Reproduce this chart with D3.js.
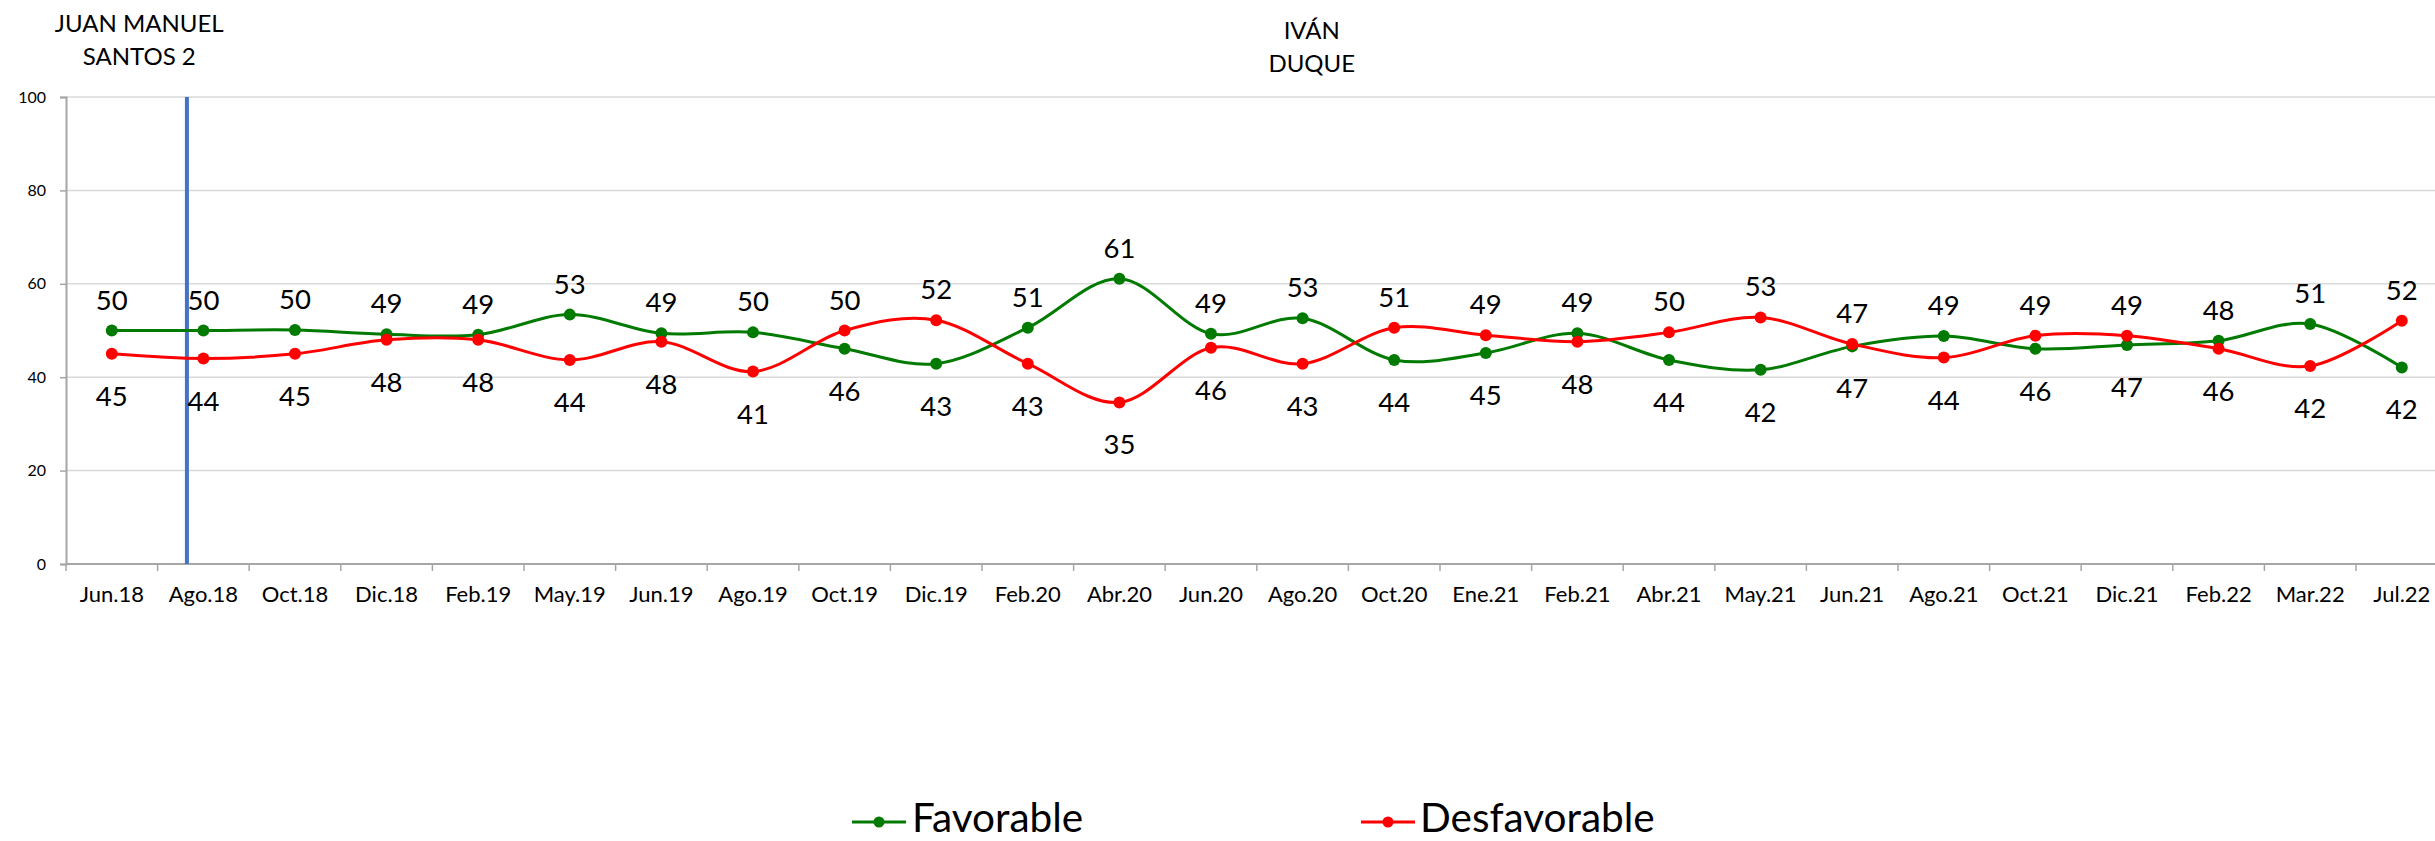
<!DOCTYPE html>
<html>
<head>
<meta charset="utf-8">
<script src="https://cdn.jsdelivr.net/npm/d3@7"></script>
<style>
  html, body { margin: 0; padding: 0; background: #fff; }
  svg { display: block; font-family: Lato, "Open Sans", sans-serif; }
</style>
</head>
<body>
<svg id="chart" width="2435" height="841"></svg>
<script>
const categories = ["Jun.18","Ago.18","Oct.18","Dic.18","Feb.19","May.19","Jun.19","Ago.19","Oct.19","Dic.19",
  "Feb.20","Abr.20","Jun.20","Ago.20","Oct.20","Ene.21","Feb.21","Abr.21","May.21","Jun.21",
  "Ago.21","Oct.21","Dic.21","Feb.22","Mar.22","Jul.22"];
const favorable = [50.0,50.0,50.1,49.2,49.1,53.4,49.4,49.6,46.1,42.9,
  50.6,61.1,49.3,52.6,43.7,45.2,49.4,43.7,41.6,46.6,
  48.8,46.1,46.9,47.8,51.4,42.1];
const desfavorable = [45.0,44.0,45.0,48.0,48.0,43.7,47.6,41.2,50.0,52.2,
  42.9,34.6,46.3,42.9,50.6,49.0,47.6,49.6,52.8,47.1,
  44.2,48.9,48.9,46.1,42.4,52.1];
const yTicks = [0,20,40,60,80,100];
const seriesNames = ["Favorable","Desfavorable"];
const seriesColors = ["#007a00","#ff0000"];
const periods = [
  {lines:["JUAN MANUEL","SANTOS 2"], at: 0.8},
  {lines:["IVÁN","DUQUE"], at: 13.6}
];
const presidentChange = 1.32; // category-index position of the divider

const svg = d3.select("#chart");
const plotLeft = 66, plotTop = 97, plotBottom = 564;
const step = 91.6;
const x = d3.scaleBand().domain(categories).range([plotLeft, plotLeft + step*categories.length]).paddingInner(0).paddingOuter(0);
const xi = d3.scaleLinear().domain([0, categories.length]).range([plotLeft, plotLeft + step*categories.length]);
const y = d3.scaleLinear().domain([0,100]).range([plotBottom, plotTop]);
const cx = c => x(c) + x.bandwidth()/2;

// gridlines
svg.append("g").selectAll("line").data(yTicks.filter(t => t>0)).join("line")
  .attr("x1", plotLeft).attr("x2", 2435).attr("y1", d=>y(d)).attr("y2", d=>y(d))
  .attr("stroke", "#d9d9d9").attr("stroke-width", 1.5);

// y axis
const ya = svg.append("g").attr("transform", `translate(${plotLeft},0)`)
  .call(d3.axisLeft(y).tickValues(yTicks).tickSize(6).tickPadding(14));
ya.select(".domain").attr("stroke", "#a6a6a6").attr("stroke-width", 2);
ya.selectAll(".tick line").attr("stroke", "#a6a6a6").attr("stroke-width", 1.5);
ya.selectAll(".tick text").attr("font-size", 16).attr("fill", "#000").attr("font-family", "Lato");

// x axis
const xa = svg.append("g").attr("transform", `translate(0,${plotBottom})`)
  .call(d3.axisBottom(x).tickSize(0).tickPadding(22));
xa.select(".domain").remove();
xa.selectAll(".tick text").attr("font-size", 22).attr("fill", "#000").attr("font-family", "Lato");
svg.append("line").attr("x1", plotLeft).attr("x2", 2435).attr("y1", plotBottom).attr("y2", plotBottom)
  .attr("stroke", "#a6a6a6").attr("stroke-width", 2);
svg.append("g").selectAll("line").data(d3.range(categories.length+1)).join("line")
  .attr("x1", d=>xi(d)).attr("x2", d=>xi(d)).attr("y1", plotBottom).attr("y2", plotBottom+7)
  .attr("stroke", "#a6a6a6").attr("stroke-width", 1.5);

// divider line
svg.append("line").attr("x1", xi(presidentChange)).attr("x2", xi(presidentChange))
  .attr("y1", y(100)).attr("y2", y(0)).attr("stroke", "#4472c4").attr("stroke-width", 4);

// period titles
periods.forEach((p, k) => {
  const t = svg.append("text").attr("text-anchor", "middle").attr("font-size", 24)
    .attr("font-family", "Lato").attr("fill", "#000");
  p.lines.forEach((ln, j) => {
    t.append("tspan").attr("x", xi(p.at)).attr("y", (k===0 ? 32 : 39) + j*33).text(ln);
  });
});

// series lines
const data = [favorable, desfavorable];
const line = d3.line().x((d,i)=>cx(categories[i])).y(d=>y(d)).curve(d3.curveCatmullRom.alpha(0));
data.forEach((vals, s) => {
  svg.append("path").datum(vals).attr("d", line).attr("fill", "none")
    .attr("stroke", seriesColors[s]).attr("stroke-width", 3);
  svg.append("g").selectAll("circle").data(vals).join("circle")
    .attr("cx", (d,i)=>cx(categories[i])).attr("cy", d=>y(d)).attr("r", 6)
    .attr("fill", seriesColors[s]);
});

// data labels
const fmt = d3.format(".0f");
data.forEach((vals, s) => {
  const other = data[1-s];
  svg.append("g").selectAll("text").data(vals).join("text")
    .attr("x", (d,i)=>cx(categories[i]))
    .attr("y", (d,i) => {
      const above = s===0 ? d > other[i] : d >= other[i];
      return above ? y(d) - 21 : y(d) + 52;
    })
    .attr("text-anchor", "middle").attr("font-size", 27.5).attr("font-family", "Lato").attr("fill", "#000")
    .text(d => fmt(d));
});

// legend
const legendItems = [{x0: 852, tx: 912}, {x0: 1361, tx: 1420}];
const ly = 822;
legendItems.forEach((it, s) => {
  svg.append("line").attr("x1", it.x0).attr("x2", it.x0+54).attr("y1", ly).attr("y2", ly)
    .attr("stroke", seriesColors[s]).attr("stroke-width", 3);
  svg.append("circle").attr("cx", it.x0+27).attr("cy", ly).attr("r", 5.5).attr("fill", seriesColors[s]);
  svg.append("text").attr("x", it.tx).attr("y", 832).attr("font-size", 40.5).attr("font-family", "Lato")
    .attr("fill", "#000").text(seriesNames[s]);
});
</script>
</body>
</html>
